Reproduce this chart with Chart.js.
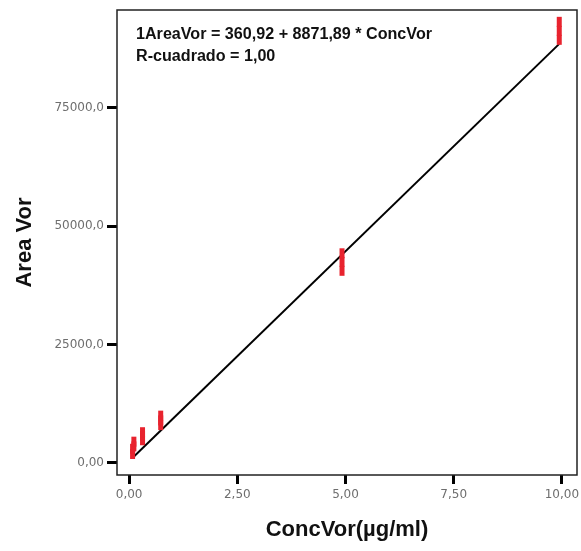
<!DOCTYPE html>
<html>
<head>
<meta charset="utf-8">
<script src="https://cdn.jsdelivr.net/npm/chart.js@4.4.1/dist/chart.umd.min.js"></script>
<style>
  body { margin: 0; background: #fff; }
  canvas { display: block; }
</style>
</head>
<body>
<canvas id="regChart" width="581" height="551"></canvas>
<script>
const concVor = [0.08, 0.08, 0.11, 0.11, 0.31, 0.31, 0.31, 0.73, 0.73, 0.73, 4.92, 4.92, 4.92, 9.94, 9.94, 9.94];
const areaVor = [1900, 3000, 3500, 4500, 4800, 5700, 6500, 8000, 9000, 10000, 40600, 42500, 44300, 89400, 91300, 93200];

// fitted line
const intercept = 360.92;
const slope = 8871.89;
const fitRange = [0.1, 9.94];

const xTickValues = [0, 2.5, 5, 7.5, 10];
const xTickLabels = ['0,00', '2,50', '5,00', '7,50', '10,00'];
const yTickValues = [0, 25000, 50000, 75000];
const yTickLabels = ['0,00', '25000,0', '50000,0', '75000,0'];

const annotationLines = ['1AreaVor = 360,92 + 8871,89 * ConcVor', 'R-cuadrado = 1,00'];

const points = concVor.map((c, i) => ({ x: c, y: areaVor[i] }));
const fitPoints = fitRange.map(x => ({ x: x, y: intercept + slope * x }));

const boxPlugin = {
    id: 'boxPlugin',
    afterDraw(chart) {
        const ctx = chart.ctx;
        const a = chart.chartArea;
        ctx.save();
        ctx.strokeStyle = '#222';
        ctx.lineWidth = 1.5;
        ctx.strokeRect(a.left, a.top, a.right - a.left, a.bottom - a.top);
        ctx.fillStyle = '#111';
        ctx.font = 'bold 16px "Liberation Sans", Arial, sans-serif';
        ctx.textBaseline = 'middle';
        // squeeze the first line to the narrow width seen in the picture
        const w = ctx.measureText(annotationLines[0]).width;
        const k = 296 / w;
        ctx.translate(a.left + 19, 0);
        ctx.scale(k, 1);
        ctx.fillText(annotationLines[0], 0, a.top + 25);
        ctx.fillText(annotationLines[1], 0, a.top + 47);
        ctx.restore();
    }
};

const tickFont = { size: 12, family: '"DejaVu Sans", Verdana, sans-serif' };

const ctx = document.getElementById('regChart').getContext('2d');
new Chart(ctx, {
    type: 'scatter',
    data: {
        datasets: [{
            type: 'line',
            data: fitPoints,
            borderColor: '#000',
            borderWidth: 2,
            pointRadius: 0,
            fill: false,
            order: 2
        }, {
            data: points,
            pointStyle: 'line',
            rotation: 90,
            pointRadius: 5,
            pointBorderWidth: 5,
            borderColor: '#e8232e',
            backgroundColor: '#e8232e',
            order: 1
        }]
    },
    plugins: [boxPlugin],
    options: {
        responsive: false,
        animation: false,
        layout: { autoPadding: false, padding: { top: 10, right: 4, left: 0, bottom: 0 } },
        plugins: {
            legend: { display: false },
            tooltip: { enabled: false }
        },
        scales: {
            x: {
                type: 'linear',
                min: -0.28,
                max: 10.35,
                afterBuildTicks: s => { s.ticks = xTickValues.map(v => ({ value: v })); },
                afterFit: s => { s.height = 76; s.paddingLeft = 0; s.paddingRight = 0; },
                grid: { drawOnChartArea: false, tickLength: 9, tickWidth: 3, tickColor: '#000' },
                border: { display: false },
                ticks: {
                    color: '#6e6e6e',
                    font: tickFont,
                    padding: 4,
                    maxRotation: 0,
                    callback: v => xTickLabels[xTickValues.indexOf(v)]
                },
                title: {
                    display: true,
                    text: 'ConcVor(µg/ml)',
                    color: '#111',
                    font: { size: 22, weight: 'bold', family: 'Arial, "Liberation Sans", sans-serif' },
                    padding: { top: 0, bottom: 8 }
                }
            },
            y: {
                type: 'linear',
                min: -2540,
                max: 95700,
                afterBuildTicks: s => { s.ticks = yTickValues.map(v => ({ value: v })); },
                afterFit: s => { s.width = 117; s.paddingTop = 0; s.paddingBottom = 0; },
                grid: { drawOnChartArea: false, tickLength: 10, tickWidth: 3, tickColor: '#000' },
                border: { display: false },
                ticks: {
                    color: '#6e6e6e',
                    font: tickFont,
                    padding: 3,
                    callback: v => yTickLabels[yTickValues.indexOf(v)]
                },
                title: {
                    display: true,
                    text: 'Area Vor',
                    color: '#111',
                    font: { size: 22, weight: 'bold', family: 'Arial, "Liberation Sans", sans-serif' },
                    padding: { top: 12, bottom: 0 }
                }
            }
        }
    }
});
</script>
</body>
</html>
